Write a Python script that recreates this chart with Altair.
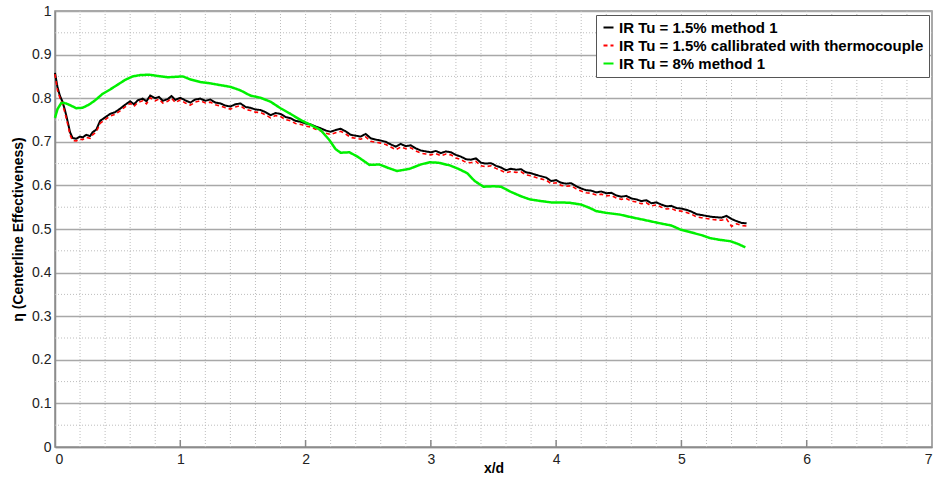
import altair as alt
import pandas as pd

SERIES = [
    "IR Tu = 1.5% method 1",
    "IR Tu = 1.5% callibrated with thermocouple",
    "IR Tu = 8% method 1",
]
COLORS = ["#000000", "#ff0000", "#00f000"]
DASHES = [[1, 0], [4, 3], [1, 0]]

# x/d positions shared by the two Tu = 1.5% traces
x_low_tu = [
    0.00, 0.02, 0.04, 0.06, 0.08, 0.10, 0.12, 0.14, 0.17, 0.20,
    0.22, 0.25, 0.28, 0.30, 0.33, 0.36, 0.40, 0.44, 0.48, 0.52,
    0.56, 0.60, 0.63, 0.66, 0.70, 0.73, 0.76, 0.80, 0.83, 0.86,
    0.90, 0.93, 0.96, 1.00, 1.04, 1.08, 1.12, 1.16, 1.20, 1.24,
    1.28, 1.32, 1.36, 1.40, 1.44, 1.48, 1.52, 1.56, 1.60, 1.64,
    1.68, 1.72, 1.76, 1.80, 1.84, 1.88, 1.92, 1.96, 2.00, 2.04,
    2.08, 2.12, 2.16, 2.20, 2.24, 2.28, 2.32, 2.36, 2.40, 2.44,
    2.48, 2.52, 2.56, 2.60, 2.64, 2.68, 2.72, 2.76, 2.80, 2.84,
    2.88, 2.92, 2.96, 3.00, 3.04, 3.08, 3.12, 3.16, 3.20, 3.24,
    3.28, 3.32, 3.36, 3.40, 3.44, 3.48, 3.52, 3.56, 3.60, 3.64,
    3.68, 3.72, 3.76, 3.80, 3.84, 3.88, 3.92, 3.96, 4.00, 4.04,
    4.08, 4.12, 4.16, 4.20, 4.24, 4.28, 4.32, 4.36, 4.40, 4.44,
    4.48, 4.52, 4.56, 4.60, 4.64, 4.68, 4.72, 4.76, 4.80, 4.84,
    4.88, 4.92, 4.96, 5.00, 5.04, 5.08, 5.12, 5.16, 5.20, 5.24,
    5.28, 5.32, 5.36, 5.40, 5.44, 5.48, 5.52,
]

# IR, Tu = 1.5%, method 1
eta_method1 = [
    0.858, 0.825, 0.805, 0.792, 0.772, 0.748, 0.722, 0.709, 0.707, 0.712,
    0.710, 0.716, 0.713, 0.722, 0.728, 0.748, 0.756, 0.764, 0.768, 0.776,
    0.785, 0.793, 0.786, 0.795, 0.799, 0.793, 0.806, 0.800, 0.803, 0.794,
    0.798, 0.805, 0.796, 0.801, 0.795, 0.790, 0.797, 0.799, 0.794, 0.797,
    0.790, 0.788, 0.783, 0.781, 0.786, 0.788, 0.780, 0.778, 0.774, 0.773,
    0.768, 0.761, 0.766, 0.764, 0.757, 0.754, 0.748, 0.746, 0.742, 0.740,
    0.735, 0.731, 0.726, 0.723, 0.727, 0.730, 0.724, 0.716, 0.714, 0.712,
    0.718, 0.708, 0.705, 0.703, 0.700, 0.694, 0.689, 0.695, 0.690, 0.692,
    0.685, 0.680, 0.678, 0.676, 0.679, 0.674, 0.678, 0.676, 0.670, 0.666,
    0.660, 0.659, 0.662, 0.652, 0.650, 0.651, 0.645, 0.641, 0.635, 0.638,
    0.636, 0.637, 0.630, 0.628, 0.624, 0.621, 0.618, 0.610, 0.612, 0.606,
    0.604, 0.605, 0.598, 0.593, 0.589, 0.588, 0.584, 0.586, 0.582, 0.583,
    0.577, 0.574, 0.576, 0.570, 0.568, 0.564, 0.566, 0.559, 0.561, 0.556,
    0.552, 0.553, 0.548, 0.547, 0.544, 0.540, 0.534, 0.532, 0.530, 0.528,
    0.527, 0.526, 0.530, 0.523, 0.518, 0.514, 0.513,
]

# IR, Tu = 1.5%, calibrated against the thermocouple
eta_calibrated = [
    0.855, 0.818, 0.800, 0.786, 0.766, 0.742, 0.716, 0.703, 0.702, 0.706,
    0.705, 0.710, 0.708, 0.716, 0.723, 0.742, 0.751, 0.759, 0.763, 0.771,
    0.780, 0.788, 0.781, 0.790, 0.794, 0.787, 0.801, 0.794, 0.798, 0.789,
    0.793, 0.800, 0.790, 0.796, 0.789, 0.784, 0.791, 0.794, 0.789, 0.791,
    0.785, 0.782, 0.778, 0.775, 0.780, 0.783, 0.774, 0.772, 0.768, 0.767,
    0.762, 0.755, 0.760, 0.758, 0.751, 0.748, 0.742, 0.740, 0.736, 0.734,
    0.729, 0.725, 0.720, 0.717, 0.721, 0.724, 0.718, 0.710, 0.708, 0.706,
    0.711, 0.701, 0.699, 0.697, 0.694, 0.688, 0.682, 0.688, 0.684, 0.686,
    0.679, 0.674, 0.672, 0.670, 0.673, 0.668, 0.672, 0.670, 0.663, 0.659,
    0.653, 0.652, 0.655, 0.645, 0.643, 0.645, 0.639, 0.634, 0.629, 0.632,
    0.630, 0.631, 0.624, 0.622, 0.618, 0.615, 0.612, 0.604, 0.606, 0.600,
    0.598, 0.599, 0.592, 0.587, 0.583, 0.582, 0.578, 0.580, 0.576, 0.577,
    0.571, 0.568, 0.570, 0.564, 0.562, 0.558, 0.560, 0.553, 0.555, 0.550,
    0.546, 0.547, 0.542, 0.541, 0.538, 0.534, 0.528, 0.526, 0.524, 0.522,
    0.521, 0.520, 0.523, 0.506, 0.512, 0.508, 0.507,
]

# IR, Tu = 8%, method 1
x_high_tu = [
    0.00, 0.02, 0.05, 0.08, 0.12, 0.17, 0.22, 0.27, 0.32, 0.38,
    0.44, 0.50, 0.56, 0.62, 0.68, 0.75, 0.82, 0.90, 0.96, 1.02,
    1.08, 1.16, 1.24, 1.32, 1.40, 1.48, 1.56, 1.64, 1.72, 1.80,
    1.88, 1.96, 2.04, 2.12, 2.19, 2.24, 2.28, 2.35, 2.42, 2.51,
    2.59, 2.66, 2.73, 2.83, 2.92, 2.99, 3.06, 3.15, 3.22, 3.29,
    3.35, 3.42, 3.50, 3.56, 3.64, 3.72, 3.79, 3.88, 3.96, 4.04,
    4.11, 4.20, 4.27, 4.32, 4.40, 4.51, 4.60, 4.70, 4.83, 4.92,
    4.99, 5.08, 5.16, 5.23, 5.31, 5.39, 5.45, 5.51,
]
eta_high_tu = [
    0.755, 0.775, 0.789, 0.789, 0.784, 0.777, 0.778, 0.785, 0.795, 0.810,
    0.820, 0.831, 0.842, 0.850, 0.853, 0.854, 0.851, 0.848, 0.849, 0.850,
    0.843, 0.837, 0.834, 0.830, 0.826, 0.818, 0.806, 0.801, 0.792, 0.777,
    0.764, 0.750, 0.739, 0.727, 0.704, 0.683, 0.675, 0.676, 0.665, 0.647,
    0.648, 0.640, 0.633, 0.638, 0.648, 0.653, 0.652, 0.646, 0.638, 0.628,
    0.610, 0.597, 0.598, 0.597, 0.585, 0.575, 0.568, 0.564, 0.561, 0.561,
    0.560, 0.556, 0.548, 0.541, 0.537, 0.533, 0.527, 0.521, 0.513, 0.508,
    0.499, 0.492, 0.486, 0.479, 0.475, 0.472, 0.466, 0.458,
]

# axis ticks and grid positions
x_ticks = [0, 1, 2, 3, 4, 5, 6, 7]
y_ticks = [0, 0.1, 0.2, 0.3, 0.4, 0.5, 0.6, 0.7, 0.8, 0.9, 1]
x_minor = [0.2, 0.4, 0.6, 0.8, 1.0, 1.2, 1.4, 1.6, 1.8, 2.0, 2.2, 2.4, 2.6,
           2.8, 3.0, 3.2, 3.4, 3.6, 3.8, 4.0, 4.2, 4.4, 4.6, 4.8, 5.0, 5.2,
           5.4, 5.6, 5.8, 6.0, 6.2, 6.4, 6.6, 6.8]
y_minor = [0.05, 0.15, 0.25, 0.35, 0.45, 0.55, 0.65, 0.75, 0.85, 0.95]

rows = []
for xv, yv in zip(x_low_tu, eta_method1):
    rows.append({"series": SERIES[0], "x": xv, "y": yv})
for xv, yv in zip(x_low_tu, eta_calibrated):
    rows.append({"series": SERIES[1], "x": xv, "y": yv})
for xv, yv in zip(x_high_tu, eta_high_tu):
    rows.append({"series": SERIES[2], "x": xv, "y": yv})
df = pd.DataFrame(rows)

FONT = "Liberation Sans"
x_scale = alt.Scale(domain=[0, 7], nice=False, zero=False)
y_scale = alt.Scale(domain=[0, 1], nice=False, zero=False)

x_axis = alt.Axis(
    values=x_ticks, title="x/d", grid=False, ticks=False,
    labelFontSize=14, labelColor="#222222", labelPadding=5,
    titleFontSize=14, titleFontWeight="bold", titleColor="#000000",
    titleY=21, titleBaseline="middle",
    domainColor="#8c8c8c", domainWidth=1.5,
)
y_axis = alt.Axis(
    values=y_ticks, format="~g", title="η (Centerline Effectiveness)",
    grid=True, gridColor="#a8a8a8", gridWidth=1.5, ticks=False,
    labelFontSize=14, labelColor="#222222", labelPadding=4,
    titleFontSize=14, titleFontWeight="bold", titleColor="#000000",
    titlePadding=6, domainColor="#8c8c8c", domainWidth=1.5,
)
X = alt.X("x:Q", scale=x_scale, axis=x_axis)
Y = alt.Y("y:Q", scale=y_scale, axis=y_axis)

# dotted minor grid
vgrid = alt.Chart(pd.DataFrame({"x": x_minor})).mark_rule(
    color="#bdbdbd", strokeWidth=1, strokeDash=[1, 2]
).encode(x=X)
hgrid = alt.Chart(pd.DataFrame({"y": y_minor})).mark_rule(
    color="#bdbdbd", strokeWidth=1, strokeDash=[1, 2]
).encode(y=Y)

# inward tick marks on the x axis
ticks = alt.Chart(pd.DataFrame({"x": x_ticks[1:-1]})).mark_rule(
    color="#888888", strokeWidth=1.5
).encode(
    x=X,
    y=alt.datum(0, scale=y_scale, axis=y_axis),
    y2=alt.datum(0.016),
)

base = alt.Chart(df).encode(
    x=X,
    y=Y,
    color=alt.Color(
        "series:N",
        scale=alt.Scale(domain=SERIES, range=COLORS),
        legend=alt.Legend(title=None),
    ),
    strokeDash=alt.StrokeDash(
        "series:N",
        scale=alt.Scale(domain=SERIES, range=DASHES),
        legend=alt.Legend(title=None),
    ),
    order=alt.Order("x:Q"),
)

widths = [2, 1.6, 2.5]
lines = [
    base.transform_filter(alt.datum.series == s).mark_line(strokeWidth=w)
    for s, w in zip(SERIES, widths)
]

chart = alt.layer(vgrid, hgrid, ticks, *lines).properties(
    width=877,
    height=436,
    autosize=alt.AutoSizeParams(type="none"),
    padding={"left": 55, "top": 11, "right": 4, "bottom": 37},
).configure(
    font=FONT,
).configure_view(
    stroke="#8c8c8c", strokeWidth=1.5,
).configure_legend(
    orient="none", legendX=541, legendY=4,
    fillColor="#ffffff", strokeColor="#555555", padding=5,
    labelFont=FONT, labelFontSize=15, labelFontWeight="bold",
    labelColor="#000000", labelLimit=400, labelOffset=3,
    symbolType="stroke", symbolSize=100, symbolStrokeWidth=2,
    rowPadding=2, cornerRadius=0,
)

chart.save("out.html", embed_options={"renderer": "svg", "actions": False})
